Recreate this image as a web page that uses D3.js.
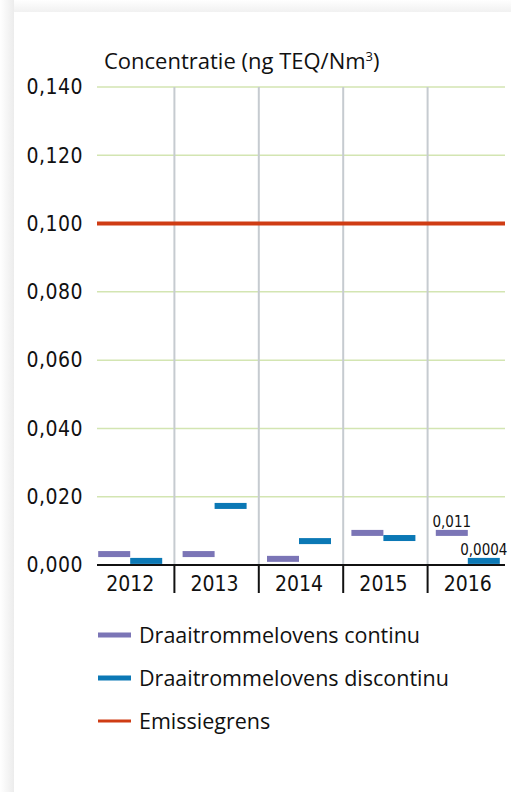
<!DOCTYPE html>
<html>
<head>
<meta charset="utf-8">
<script src="https://cdn.jsdelivr.net/npm/d3@7"></script>
<style>
  html, body { margin: 0; padding: 0; background: #fff; }
  svg text { font-family: "Liberation Sans Narrow", "DejaVu Sans Condensed", sans-serif; fill: #111; }
</style>
</head>
<body>
<svg width="511" height="792"></svg>
<script>
// data
var years = ['2012', '2013', '2014', '2015', '2016'];
var continu = [0.0032, 0.0032, 0.0018, 0.0094, 0.0094];
var discontinu = [0.0012, 0.0173, 0.0070, 0.0079, 0.0012];
var grens = 0.100;
var yTicks = [0, 0.02, 0.04, 0.06, 0.08, 0.10, 0.12, 0.14];
var valueLabels2016 = ['0,011', '0,0004'];
var seriesNames = ['Draaitrommelovens continu', 'Draaitrommelovens discontinu', 'Emissiegrens'];
var colors = ['#7b75b6', '#0b78b5', '#cf3c14'];

var svg = d3.select('svg');

// card with soft shadow
var defs = svg.append('defs');
var lg = defs.append('linearGradient').attr('id', 'shL').attr('x1', 0).attr('x2', 1);
lg.append('stop').attr('offset', 0).attr('stop-color', '#fff');
lg.append('stop').attr('offset', 1).attr('stop-color', '#ececec');
var tg = defs.append('linearGradient').attr('id', 'shT').attr('x1', 0).attr('x2', 0).attr('y1', 0).attr('y2', 1);
tg.append('stop').attr('offset', 0).attr('stop-color', '#fff');
tg.append('stop').attr('offset', 1).attr('stop-color', '#f1f1f1');
svg.append('rect').attr('x', 0).attr('y', 0).attr('width', 14).attr('height', 792).attr('fill', 'url(#shL)');
svg.append('rect').attr('x', 14).attr('y', 0).attr('width', 497).attr('height', 12).attr('fill', 'url(#shT)');
svg.append('rect').attr('x', 14).attr('y', 12).attr('width', 497).attr('height', 780).attr('fill', '#fff');

var x = d3.scaleBand().domain(years).range([90, 512]);
var y = d3.scaleLinear().domain([0, 0.14]).range([565, 87]);
var gx0 = 97, gx1 = 505;
var fmt = function(d) { return d3.format('.3f')(d).replace('.', ','); };

// horizontal grid
svg.append('g').selectAll('line').data(yTicks.filter(function(d) { return d > 0; })).enter()
  .append('line')
  .attr('x1', gx0).attr('x2', gx1)
  .attr('y1', function(d) { return y(d); }).attr('y2', function(d) { return y(d); })
  .attr('stroke', '#d3e5b2').attr('stroke-width', 1.5);

// vertical grid between categories
svg.append('g').selectAll('line').data(years.slice(1)).enter()
  .append('line')
  .attr('x1', function(d) { return x(d); }).attr('x2', function(d) { return x(d); })
  .attr('y1', y(0.14)).attr('y2', y(0))
  .attr('stroke', '#c6cbd0').attr('stroke-width', 2);

// y tick labels
svg.append('g').selectAll('text').data(yTicks).enter()
  .append('text')
  .attr('x', 83).attr('y', function(d) { return y(d); })
  .attr('dy', '0.35em').attr('text-anchor', 'end')
  .style('font-size', '21px').style('letter-spacing', '0.5px')
  .text(fmt);

// title
svg.append('text').attr('x', 104).attr('y', 69).style('font-size', '22px')
  .style('font-family', '"Open Sans", sans-serif')
  .text('Concentratie (ng TEQ/Nm')
  .append('tspan').attr('dy', -8).style('font-size', '13px').text('3')
  .select(function() { return this.parentNode; })
  .append('tspan').attr('dy', 8).text(')');

// emission limit
svg.append('line').attr('x1', gx0).attr('x2', gx1)
  .attr('y1', y(grens)).attr('y2', y(grens))
  .attr('stroke', colors[2]).attr('stroke-width', 4);

// markers
var mw = 32, mh = 6;
svg.append('g').selectAll('rect').data(continu).enter()
  .append('rect')
  .attr('x', function(d, i) { return x(years[i]) + x.bandwidth() / 2 - 2 - mw; })
  .attr('y', function(d) { return y(d) - mh / 2; })
  .attr('width', mw).attr('height', mh).attr('fill', colors[0]);
svg.append('g').selectAll('rect').data(discontinu).enter()
  .append('rect')
  .attr('x', function(d, i) { return x(years[i]) + x.bandwidth() / 2 - 2; })
  .attr('y', function(d) { return y(d) - mh / 2; })
  .attr('width', mw).attr('height', mh).attr('fill', colors[1]);

// value labels 2016
var last = years.length - 1;
svg.append('text').attr('x', x(years[last]) + x.bandwidth() / 2 - 2 - mw / 2).attr('y', y(continu[last]) - 6)
  .attr('text-anchor', 'middle').style('font-size', '15px').text(valueLabels2016[0]);
svg.append('text').attr('x', x(years[last]) + x.bandwidth() / 2 - 2 + mw / 2).attr('y', y(discontinu[last]) - 6)
  .attr('text-anchor', 'middle').style('font-size', '15px').text(valueLabels2016[1]);

// x axis
svg.append('line').attr('x1', gx0).attr('x2', gx1).attr('y1', y(0)).attr('y2', y(0))
  .attr('stroke', '#111').attr('stroke-width', 2);
svg.append('g').selectAll('line').data(years.slice(1)).enter()
  .append('line')
  .attr('x1', function(d) { return x(d); }).attr('x2', function(d) { return x(d); })
  .attr('y1', y(0)).attr('y2', y(0) + 28)
  .attr('stroke', '#111').attr('stroke-width', 2);
svg.append('g').selectAll('text').data(years).enter()
  .append('text')
  .attr('x', function(d) { return x(d) + x.bandwidth() / 2 - 2; })
  .attr('y', 584).attr('dy', '0.35em').attr('text-anchor', 'middle')
  .style('font-size', '21px')
  .text(function(d) { return d; });

// legend
var lg2 = svg.append('g').selectAll('g').data(seriesNames).enter()
  .append('g').attr('transform', function(d, i) { return 'translate(98,' + (635 + i * 43) + ')'; });
lg2.append('line').attr('x1', 0).attr('x2', 33).attr('y1', 0).attr('y2', 0)
  .attr('stroke', function(d, i) { return colors[i]; })
  .attr('stroke-width', function(d, i) { return i < 2 ? 5 : 3; });
lg2.append('text').attr('x', 41).attr('dy', '0.35em')
  .style('font-size', '21.5px')
  .style('font-family', '"Open Sans", sans-serif')
  .text(function(d) { return d; });
</script>
</body>
</html>
